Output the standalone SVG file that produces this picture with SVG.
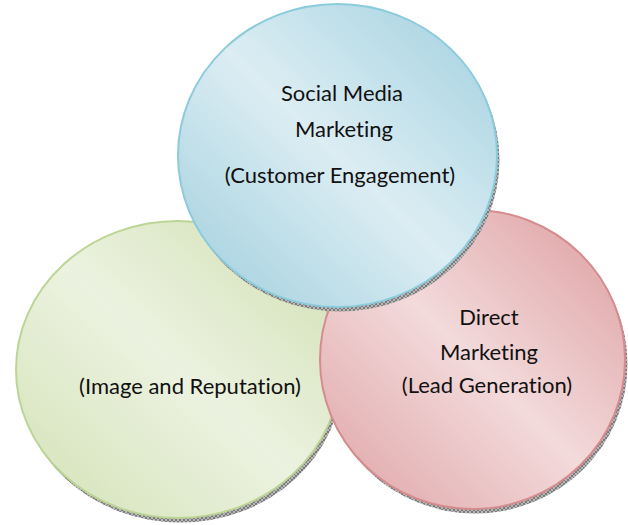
<svg xmlns="http://www.w3.org/2000/svg" width="628" height="525" viewBox="0 0 628 525">
  <defs>
    <style>
      .label { font-family: Lato, "Open Sans", "Liberation Sans", sans-serif; font-size: 22px; fill: #111; text-anchor: middle; font-variant-ligatures: none; }
      .rim { fill: url(#hatch); }
    </style>
    <!-- fine grey cross-hatch used on the lower rim of each disc -->
    <pattern id="hatch" width="4" height="4" patternUnits="userSpaceOnUse">
      <rect width="4" height="4" fill="#b8b8b8"/>
      <path d="M0,0 L4,4 M4,0 L0,4" stroke="#6a6a6a" stroke-width="0.8"/>
    </pattern>
    <linearGradient id="gBlue" x1="1" y1="0" x2="0" y2="1">
      <stop offset="0" stop-color="#9fd0df"/>
      <stop offset="0.5" stop-color="#dcedf3"/>
      <stop offset="1" stop-color="#9dcedd"/>
    </linearGradient>
    <linearGradient id="gGreen" x1="1" y1="0" x2="0" y2="1">
      <stop offset="0" stop-color="#cfdfb0"/>
      <stop offset="0.5" stop-color="#ecf2e0"/>
      <stop offset="1" stop-color="#d2e2b5"/>
    </linearGradient>
    <linearGradient id="gRed" x1="1" y1="0" x2="0" y2="1">
      <stop offset="0" stop-color="#dc9c9e"/>
      <stop offset="0.5" stop-color="#f3dadb"/>
      <stop offset="1" stop-color="#dea2a4"/>
    </linearGradient>
  </defs>

  <!-- discs are stacked green, red, blue (blue on top) -->
  <g id="node-image">
    <ellipse class="rim" cx="180.5" cy="374" rx="162" ry="148.5"/>
    <ellipse cx="178" cy="369.5" rx="162" ry="148.5" fill="url(#gGreen)" stroke="#bcd595" stroke-width="2"/>
    <text class="label" x="190" y="394">(Image and Reputation)</text>
  </g>

  <g id="node-direct">
    <ellipse class="rim" cx="475" cy="364" rx="152.5" ry="149.5"/>
    <ellipse cx="472.5" cy="359.5" rx="152.5" ry="149.5" fill="url(#gRed)" stroke="#d68c8e" stroke-width="2"/>
    <text class="label" x="489" y="325">Direct</text>
    <text class="label" x="489" y="360">Marketing</text>
    <text class="label" x="487" y="393">(Lead Generation)</text>
  </g>

  <g id="node-social">
    <ellipse class="rim" cx="340" cy="160" rx="159.5" ry="151.5"/>
    <ellipse cx="337.5" cy="155.5" rx="159.5" ry="151.5" fill="url(#gBlue)" stroke="#8ccbdc" stroke-width="2"/>
    <text class="label" x="342" y="101">Social Media</text>
    <text class="label" x="344" y="137">Marketing</text>
    <text class="label" x="340" y="183">(Customer Engagement)</text>
  </g>

  <g id="connectors"/>
</svg>
